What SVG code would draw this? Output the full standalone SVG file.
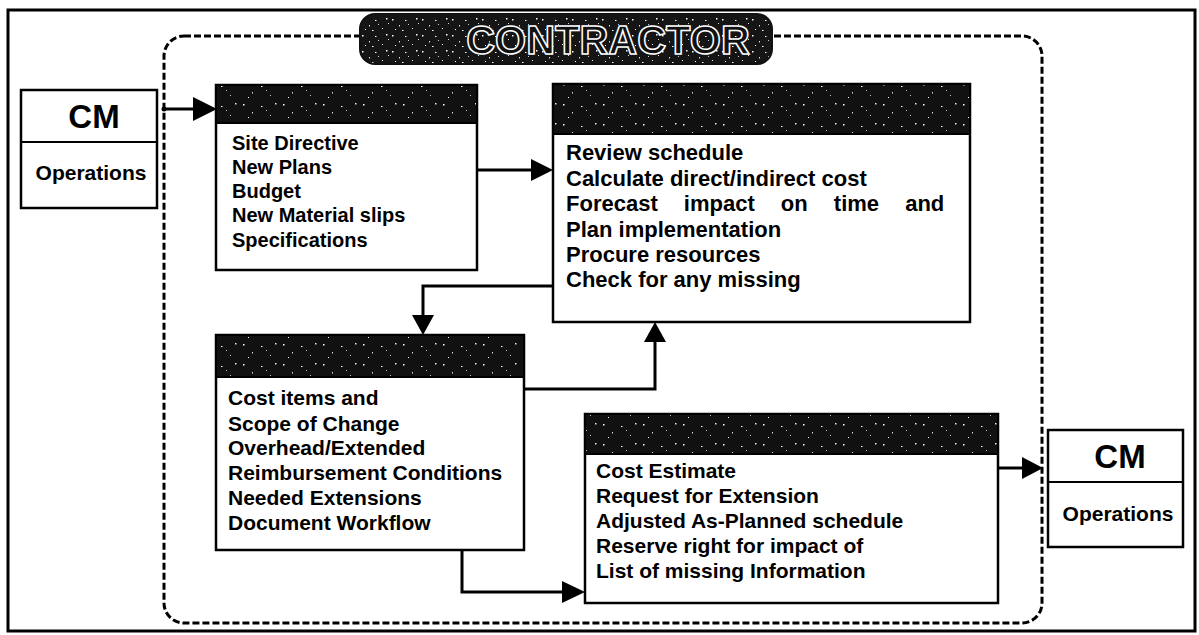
<svg xmlns="http://www.w3.org/2000/svg" width="1199" height="635" viewBox="0 0 1199 635">
<defs>
<pattern id="speck" width="40" height="20" patternUnits="userSpaceOnUse">
<rect width="40" height="20" fill="#111"/>
<rect x="3" y="4" width="1.5" height="1.5" fill="#fff"/>
<rect x="12" y="12" width="1" height="1.5" fill="#ddd"/>
<rect x="21" y="6" width="1.5" height="1" fill="#fff"/>
<rect x="30" y="15" width="1" height="1" fill="#ccc"/>
<rect x="35" y="3" width="1.5" height="1.5" fill="#eee"/>
<rect x="8" y="17" width="1" height="1" fill="#fff"/>
<rect x="26" y="10" width="1" height="1" fill="#bbb"/>
</pattern>
<pattern id="speck2" width="30" height="16" patternUnits="userSpaceOnUse">
<rect width="30" height="16" fill="#151515"/>
<rect x="2" y="3" width="1.5" height="1.5" fill="#fff"/>
<rect x="9" y="9" width="1" height="1.5" fill="#ddd"/>
<rect x="15" y="4" width="1.5" height="1" fill="#fff"/>
<rect x="22" y="12" width="1" height="1" fill="#eee"/>
<rect x="26" y="2" width="1.5" height="1.5" fill="#fff"/>
<rect x="5" y="13" width="1" height="1" fill="#fff"/>
<rect x="18" y="8" width="1" height="1" fill="#ccc"/>
<rect x="12" y="14" width="1.5" height="1" fill="#fff"/>
<rect x="28" y="7" width="1" height="1" fill="#ddd"/>
</pattern>
<style>
.frame{fill:none;stroke:#000;stroke-width:3}
.dash{fill:none;stroke:#000;stroke-width:3;stroke-dasharray:7 3}
.box{fill:#fff;stroke:#000;stroke-width:2.5}
.hdr{fill:url(#speck);stroke:#000;stroke-width:2}
.t{font-family:"Liberation Sans",Arial,sans-serif;font-weight:bold;font-size:20px;fill:#000}
.t21{font-size:21px}
.t22{font-size:22px}
.cm{font-family:"Liberation Sans",Arial,sans-serif;font-weight:bold;font-size:33px;fill:#000;text-anchor:middle}
.op{font-family:"Liberation Sans",Arial,sans-serif;font-weight:bold;font-size:21px;fill:#000;text-anchor:middle}
.con{fill:none;stroke:#000;stroke-width:3}
.head{fill:#000}
</style>
</defs>
<rect class="frame" x="8" y="10" width="1187" height="621"/>
<g id="contractor">
<rect class="dash" x="164" y="36" width="878" height="587" rx="20" ry="20"/>
<rect x="360" y="14" width="412" height="50" rx="15" ry="15" fill="url(#speck2)" stroke="#111" stroke-width="2"/>
<text x="608" y="54" text-anchor="middle" font-family="'Liberation Sans',Arial,sans-serif" font-weight="bold" font-size="40" fill="#111" stroke="#fff" stroke-width="1.5">CONTRACTOR</text>
</g>
<g id="cm-left">
<rect class="box" x="21" y="90" width="136" height="118"/>
<line x1="21" y1="142" x2="157" y2="142" stroke="#000" stroke-width="2"/>
<text class="cm" x="94" y="128">CM</text>
<text class="op" x="91" y="180">Operations</text>
</g>
<g id="input">
<rect class="box" x="216" y="85" width="261" height="185"/>
<rect class="hdr" x="216" y="85" width="261" height="38"/>
<text class="t" x="232" y="150">Site Directive</text>
<text class="t" x="232" y="174">New Plans</text>
<text class="t" x="232" y="198">Budget</text>
<text class="t" x="232" y="222">New Material slips</text>
<text class="t" x="232" y="247">Specifications</text>
</g>
<g id="task">
<rect class="box" x="553" y="84" width="417" height="238"/>
<rect class="hdr" x="553" y="84" width="417" height="50"/>
<text class="t t22" x="566" y="160">Review schedule</text>
<text class="t t22" x="566" y="186">Calculate direct/indirect cost</text>
<text class="t t22" x="566" y="211" word-spacing="20">Forecast impact on time and</text>
<text class="t t22" x="566" y="237">Plan implementation</text>
<text class="t t22" x="566" y="262">Procure resources</text>
<text class="t t22" x="566" y="287">Check for any missing</text>
</g>
<g id="analysis">
<rect class="box" x="216" y="335" width="308" height="215"/>
<rect class="hdr" x="216" y="335" width="308" height="42"/>
<text class="t t21" x="228" y="405">Cost items and</text>
<text class="t t21" x="228" y="431">Scope of Change</text>
<text class="t t21" x="228" y="455">Overhead/Extended</text>
<text class="t t21" x="228" y="480">Reimbursement Conditions</text>
<text class="t t21" x="228" y="505">Needed Extensions</text>
<text class="t t21" x="228" y="530">Document Workflow</text>
</g>
<g id="output">
<rect class="box" x="585" y="414" width="413" height="189"/>
<rect class="hdr" x="585" y="414" width="413" height="40"/>
<text class="t t21" x="596" y="478">Cost Estimate</text>
<text class="t t21" x="596" y="503">Request for Extension</text>
<text class="t t21" x="596" y="528">Adjusted As-Planned schedule</text>
<text class="t t21" x="596" y="553">Reserve right for impact of</text>
<text class="t t21" x="596" y="578">List of missing Information</text>
</g>
<g id="cm-right">
<rect class="box" x="1048" y="430" width="135" height="117"/>
<line x1="1048" y1="482" x2="1183" y2="482" stroke="#000" stroke-width="2"/>
<text class="cm" x="1120" y="468">CM</text>
<text class="op" x="1118" y="521">Operations</text>
</g>
<g id="connectors">
<circle cx="164" cy="109" r="2.5" fill="#000"/>
<path class="con" d="M164,109 H196"/>
<path class="head" d="M193,97 L217,109 L193,121 Z"/>
<path class="con" d="M477,170 H534"/>
<path class="head" d="M531,159 L553,170 L531,181 Z"/>
<path class="con" d="M553,286 H423 V318"/>
<path class="head" d="M412,315 L423,335 L434,315 Z"/>
<path class="con" d="M524,389 H655 V340"/>
<path class="head" d="M644,342 L655,322 L666,342 Z"/>
<path class="con" d="M462,550 V592 H565"/>
<path class="head" d="M562,581 L585,592 L562,603 Z"/>
<path class="con" d="M998,468 H1025"/>
<path class="head" d="M1022,457 L1043,468 L1022,479 Z"/>
</g>
</svg>
